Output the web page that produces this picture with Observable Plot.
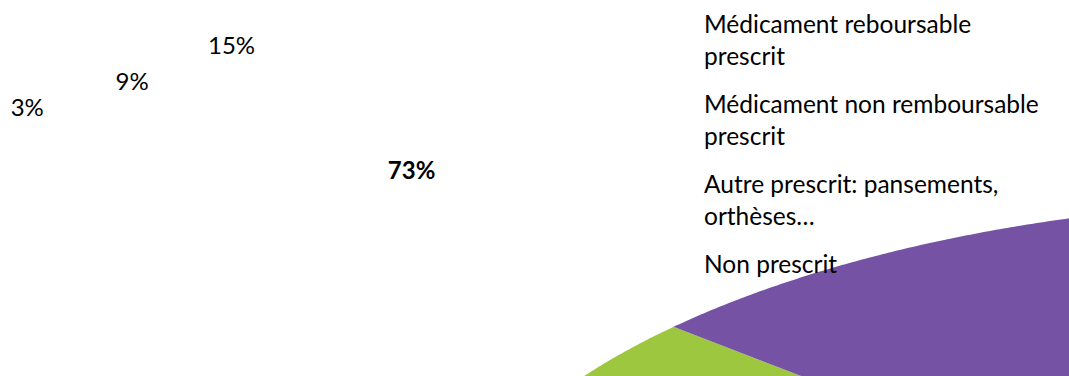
<!DOCTYPE html>
<html>
<head>
<meta charset="utf-8">
<script src="https://cdn.jsdelivr.net/npm/d3@7"></script>
<script src="https://cdn.jsdelivr.net/npm/@observablehq/plot@0.6"></script>
<style>
  body { margin: 0; background: #fff; }
  #wrap { position: relative; width: 1069px; height: 376px; overflow: hidden; font-family: Lato, "Open Sans", sans-serif; }
  #chart { position: absolute; left: 0; top: 0; }
  #legend { position: absolute; left: 704px; top: 8px; width: 336px; font-size: 24.5px; line-height: 32px; color: #000; }
  #legend div { margin-bottom: 16px; }
</style>
</head>
<body>
<div id="wrap"><div id="chart"></div><div id="legend"></div></div>
<script>
// ---- data ----
const categories = [
  "Médicament reboursable prescrit",
  "Médicament non remboursable prescrit",
  "Autre prescrit: pansements, orthèses…",
  "Non prescrit"
];
const shares = [3, 9, 15, 73];
const shareLabels = ["3%", "9%", "15%", "73%"];
const colors = ["#4f81bd", "#c0504d", "#9dc73f", "#7552a4"];

// ---- layout ----
const W = 1069, H = 376;
const FONT = "Lato, 'Open Sans', sans-serif";
const deg = Math.PI / 180;
// nominal (label) pie: Office-style, first slice at 270°, clockwise
const labelPie = {cx: 292, cy: 115, rx: 180, ry: 74, start: 270 * deg, outside: 1.48};
// the oversized rendered pie surface that spills into the lower right
const bigPie = {cx: 1350, cy: 587, rx: 914, ry: 388, start: 215 * deg};

const rows = categories.map((c, i) => ({category: c, share: shares[i], label: shareLabels[i]}));

function makePie(start) {
  return d3.pie().sort(null).value(d => d.share).startAngle(start).endAngle(start + 2 * Math.PI)(rows);
}

// label anchor points (centroids on the nominal pie ellipse; tiny slices pushed outward horizontally)
const maxShare = d3.max(shares);
const labelPts = makePie(labelPie.start).map(a => {
  const mid = (a.startAngle + a.endAngle) / 2;
  const k = a.data.share < 5 ? labelPie.outside : 1;
  return {
    x: labelPie.cx + k * labelPie.rx * Math.sin(mid),
    y: labelPie.cy - labelPie.ry * Math.cos(mid),
    label: a.data.label,
    big: a.data.share === maxShare
  };
});

// slice polygons for the oversized pie
const poly = [];
for (const a of makePie(bigPie.start)) {
  const c = a.data.category;
  poly.push({category: c, x: bigPie.cx, y: bigPie.cy});
  const n = Math.max(2, Math.ceil((a.endAngle - a.startAngle) / (0.25 * deg)));
  for (let j = 0; j <= n; j++) {
    const t = a.startAngle + (a.endAngle - a.startAngle) * j / n;
    poly.push({category: c, x: bigPie.cx + bigPie.rx * Math.sin(t), y: bigPie.cy - bigPie.ry * Math.cos(t)});
  }
}

const chart = Plot.plot({
  width: W,
  height: H,
  margin: 0,
  style: {background: "#fff", fontFamily: FONT},
  x: {domain: [0, W], range: [0, W], axis: null},
  y: {domain: [0, H], range: [0, H], axis: null},
  color: {domain: categories, range: colors},
  marks: [
    Plot.line(poly, {x: "x", y: "y", z: "category", fill: "category", stroke: "none", curve: "linear", clip: true}),
    Plot.text(labelPts.filter(d => !d.big), {x: "x", y: "y", text: "label", fontSize: 24, fill: "#000", textAnchor: "middle", lineAnchor: "middle"}),
    Plot.text(labelPts.filter(d => d.big), {x: "x", y: "y", text: "label", fontSize: 24, fontWeight: "bold", fill: "#000", textAnchor: "middle", lineAnchor: "middle"})
  ]
});
document.getElementById("chart").appendChild(chart);

// text-only legend (swatches are absent in the source image)
const legend = d3.select("#legend");
legend.selectAll("div").data(categories).join("div").text(d => d);
</script>
</body>
</html>
